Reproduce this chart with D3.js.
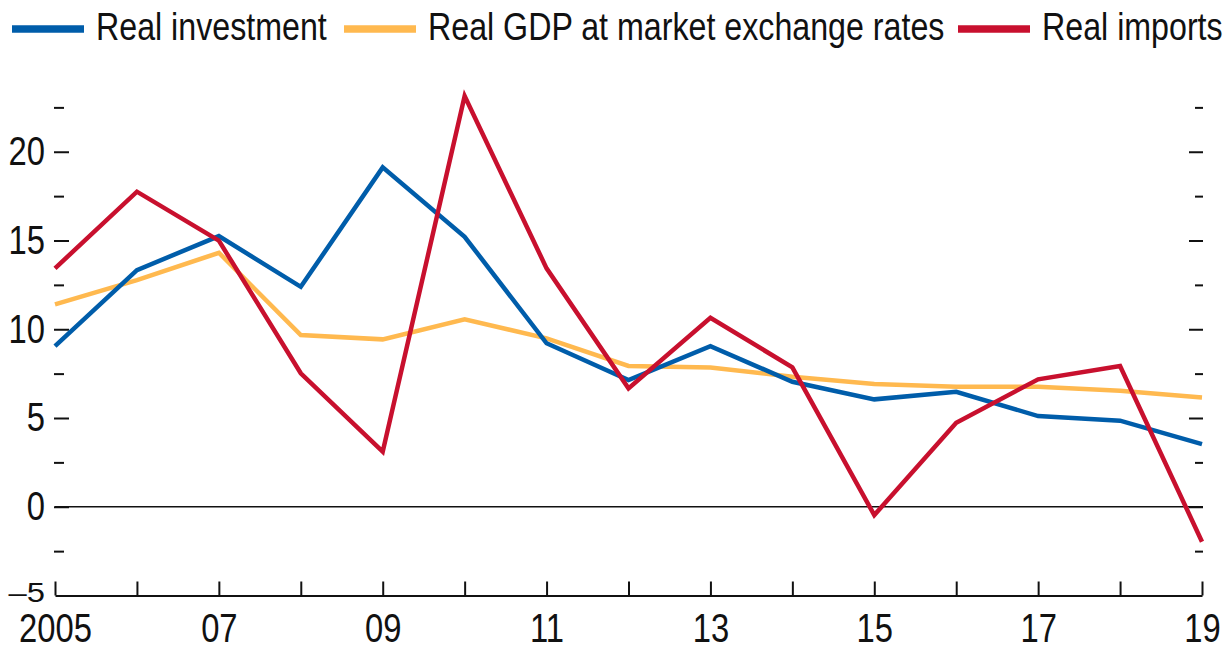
<!DOCTYPE html>
<html>
<head>
<meta charset="utf-8">
<script src="https://cdn.jsdelivr.net/npm/d3@7"></script>
<style>
  html, body { margin: 0; padding: 0; background: #fff; }
  svg { display: block; }
  text { font-family: "Liberation Sans Narrow", "Arial Narrow", "Liberation Sans", Arial, sans-serif; fill: #111; }
</style>
</head>
<body>
<svg id="chart" width="1231" height="648"></svg>
<script>
const years = [2005, 2006, 2007, 2008, 2009, 2010, 2011, 2012, 2013, 2014, 2015, 2016, 2017, 2018, 2019];
const realInvestment = [9.05, 13.33, 15.25, 12.39, 19.12, 15.21, 9.21, 7.14, 9.05, 7.04, 6.05, 6.48, 5.11, 4.85, 3.53];
const realGDP = [11.40, 12.77, 14.31, 9.67, 9.43, 10.56, 9.49, 7.93, 7.85, 7.32, 6.91, 6.76, 6.76, 6.54, 6.16];
const realImports = [13.43, 17.75, 14.99, 7.52, 3.10, 23.14, 13.43, 6.67, 10.65, 7.85, -0.47, 4.73, 7.18, 7.93, -1.97];
const seriesNames = ["Real investment", "Real GDP at market exchange rates", "Real imports"];
const seriesColors = ["#005daa", "#ffb94f", "#c8102e"];
const yLabelTicks = [-5, 0, 5, 10, 15, 20];
const yMinorTicks = [-2.5, 2.5, 7.5, 12.5, 17.5, 22.5];
const yMajorTicks = [0, 5, 10, 15, 20];
const xLabelTicks = [2005, 2007, 2009, 2011, 2013, 2015, 2017, 2019];

const svg = d3.select("#chart");
const x = d3.scaleLinear().domain([2005, 2019]).range([55, 1202]);
const y = d3.scaleLinear().domain([-5, 25]).range([595.5, 63]);

// font check: compress if narrow font unavailable
const probe = svg.append("text").attr("font-size", 40).text("Real investment");
const probeW = probe.node().getComputedTextLength();
probe.remove();
const squeeze = probeW > 260 ? 235 / probeW : 1;

function fixText(sel) {
  if (squeeze === 1) return;
  sel.each(function() {
    const t = d3.select(this);
    const anchor = t.attr("text-anchor") || getComputedStyle(this).textAnchor || "start";
    const bb = this.getBBox();
    let ax = bb.x;
    if (anchor === "middle") ax = bb.x + bb.width / 2;
    else if (anchor === "end") ax = bb.x + bb.width;
    const prev = t.attr("transform") || "";
    t.attr("transform", `${prev} translate(${ax},0) scale(${squeeze},1) translate(${-ax},0)`);
  });
}

// Zero line
svg.append("line")
  .attr("x1", x(2005)).attr("x2", x(2019) + 1)
  .attr("y1", y(0)).attr("y2", y(0))
  .attr("stroke", "#111").attr("stroke-width", 1.5);

// Inside ticks
const tickStyle = g => g.call(g => g.select(".domain").remove())
  .call(g => g.selectAll(".tick line").attr("stroke", "#111").attr("stroke-width", 2));

svg.append("g").attr("transform", `translate(${x(2005) - 1},0)`)
  .call(d3.axisRight(y).tickValues(yMajorTicks).tickSize(15).tickFormat(() => ""))
  .call(tickStyle);
svg.append("g").attr("transform", `translate(${x(2005) - 1},0)`)
  .call(d3.axisRight(y).tickValues(yMinorTicks).tickSize(10).tickFormat(() => ""))
  .call(tickStyle);
svg.append("g").attr("transform", `translate(${x(2019) + 1},0)`)
  .call(d3.axisLeft(y).tickValues(yMajorTicks).tickSize(14).tickFormat(() => ""))
  .call(tickStyle);
svg.append("g").attr("transform", `translate(${x(2019) + 1},0)`)
  .call(d3.axisLeft(y).tickValues(yMinorTicks).tickSize(8).tickFormat(() => ""))
  .call(tickStyle);

// Y labels
const yLab = svg.append("g").attr("transform", `translate(45,0)`)
  .call(d3.axisLeft(y).tickValues(yLabelTicks).tickSize(0).tickPadding(0)
    .tickFormat(d => d < 0 ? "\u2013" + Math.abs(d) : String(d)));
yLab.select(".domain").remove();
yLab.selectAll("text").attr("font-size", 40).attr("font-family", null).attr("fill", "#111");
// bottom label is drawn vertically compressed in the reference
yLab.selectAll(".tick").filter(d => d === -5).select("text")
  .attr("dy", 0).attr("y", 9.25).attr("transform", "scale(1,0.67)");

// X axis with upward ticks
const xAx = svg.append("g").attr("transform", `translate(0,${y(-5)})`)
  .call(d3.axisTop(x).tickValues(years).tickSize(14).tickSizeOuter(0).tickFormat(() => ""));
xAx.select(".domain").attr("stroke", "#111").attr("stroke-width", 1.8);
xAx.selectAll(".tick line").attr("stroke", "#111").attr("stroke-width", 2);

const xLab = svg.append("g").attr("transform", `translate(0,${y(-5)})`)
  .call(d3.axisBottom(x).tickValues(xLabelTicks).tickSize(0).tickPadding(18)
    .tickFormat(d => d === 2005 ? "2005" : String(d % 100).padStart(2, "0")));
xLab.select(".domain").remove();
xLab.selectAll("text").attr("font-size", 40).attr("font-family", null).attr("fill", "#111");

// Lines
const allSeries = [realInvestment, realGDP, realImports];
const line = d3.line().x((d, i) => x(years[i])).y(d => y(d));
const drawOrder = [1, 0, 2];
drawOrder.forEach(k => {
  svg.append("path")
    .datum(allSeries[k])
    .attr("d", line)
    .attr("fill", "none")
    .attr("stroke", seriesColors[k])
    .attr("stroke-width", 4.5)
    .attr("stroke-linejoin", "miter")
    .attr("stroke-linecap", "butt");
});

// Legend
const legendX = [12, 344, 958];
const leg = svg.append("g");
seriesNames.forEach((name, i) => {
  leg.append("line")
    .attr("x1", legendX[i]).attr("x2", legendX[i] + 72)
    .attr("y1", 29).attr("y2", 29)
    .attr("stroke", seriesColors[i]).attr("stroke-width", 7.5);
  leg.append("text")
    .attr("x", legendX[i] + 84).attr("y", 40)
    .attr("font-size", 39.3)
    .text(name);
});

fixText(svg.selectAll("text"));
</script>
</body>
</html>
